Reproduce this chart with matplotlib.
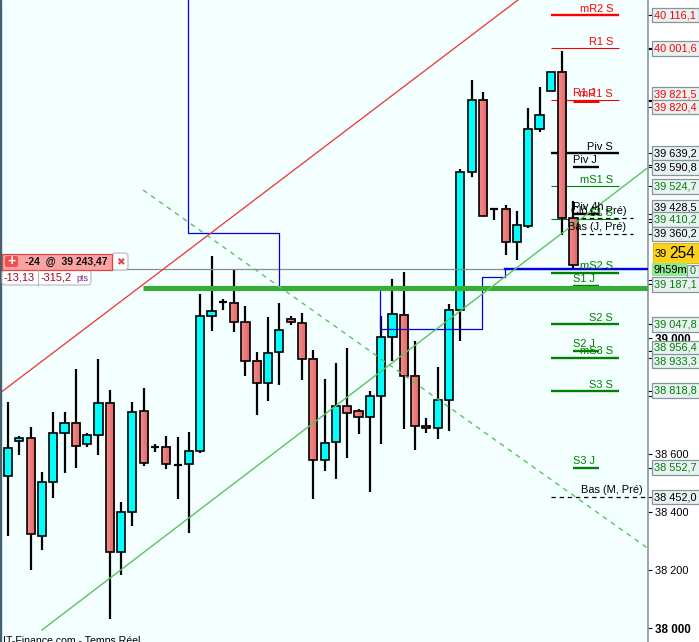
import numpy as np
import matplotlib
matplotlib.use("Agg")
import matplotlib.pyplot as plt
from matplotlib.colors import LinearSegmentedColormap
from matplotlib.patches import Rectangle, FancyBboxPatch

plt.rcParams["font.family"] = ["Liberation Sans", "DejaVu Sans"]

# candles, one per period
opens = [38525, 38644, 38656, 38318, 38504, 38673, 38708, 38635, 38666, 38777, 38262, 38400, 38749,
         38625, 38625, 38563, 38566, 38611, 39077, 39125, 39122, 39056, 38922, 38846, 38953, 39067,
         39053, 38929, 38580, 38642, 38766, 38749, 38728, 38801, 39005, 39081, 38870, 38697, 38690,
         38787, 39098, 39574, 39823, 39446, 39446, 39332, 39388, 39723, 39854, 39919, 39415]
closes = [38621, 38656, 38325, 38504, 38673, 38708, 38628, 38666, 38777, 38262, 38400, 38746, 38570,
          38625, 38566, 38563, 38611, 39077, 39094, 39125, 39056, 38922, 38846, 38949, 39029, 39056,
          38929, 38580, 38639, 38766, 38742, 38728, 38801, 39005, 39084, 38870, 38697, 38690, 38787,
          39098, 39574, 39823, 39422, 39446, 39332, 39391, 39723, 39771, 39919, 39415, 39253]
highs = [38780, 38663, 38694, 38539, 38746, 38746, 38894, 38673, 38929, 38822, 38435, 38780, 38829,
         38635, 38663, 38659, 38677, 39153, 39284, 39136, 39236, 39112, 38953, 39074, 39122, 39077,
         39087, 38960, 38860, 38915, 38967, 38756, 38818, 39077, 39205, 39229, 38991, 38725, 38901,
         39118, 39585, 39892, 39850, 39450, 39460, 39440, 39795, 39868, 39919, 39992, 39471]
lows = [38318, 38597, 38200, 38269, 38449, 38535, 38552, 38625, 38597, 38031, 38183, 38352, 38559,
        38608, 38549, 38445, 38328, 38604, 39025, 39098, 39022, 38870, 38735, 38784, 38839, 39046,
        38856, 38445, 38542, 38514, 38587, 38670, 38470, 38635, 38922, 38687, 38615, 38673, 38653,
        38680, 38991, 39557, 39422, 39408, 39288, 39270, 39381, 39712, 39854, 39357, 39243]

# horizontal levels
level_names = ["mR2 S", "R1 S", "mR1 S", "Piv S", "mS1 S", "S1 S", "mS2 S", "S2 S", "mS3 S", "S3 S"]
level_prices = [40116.1, 40001.6, 39821.5, 39639.2, 39524.7, 39410.2, 39227, 39047.8, 38933.3, 38818.8]
level_colors = ["red", "red", "red", "black", "green", "green", "green", "green", "green", "green"]
level_widths = [1.7, 0.8, 0.8, 1.7, 0.8, 0.8, 1.7, 1.7, 1.7, 1.7]

short_names = ["R1 J", "Piv J", "Piv 4h", "S1 J", "S2 J", "S3 J"]
short_prices = [39820.4, 39590.8, 39428.5, 39180, 38956.4, 38552.7]
short_colors = ["red", "black", "black", "green", "green", "green"]
short_widths = [2.2, 1.7, 1.7, 1.7, 1.7, 1.7]

dashed_names = ["Clô (J, Pré)", "Bas (J, Pré)", "Bas (M, Pré)"]
dashed_prices = [39414, 39360.2, 38452.0]

# boxes on the price axis: text, colour, where the box sits
box_texts = ["40 116,1", "40 001,6", "39 821,5", "39 820,4", "39 639,2", "39 590,8", "39 524,7", "39 428,5",
             "39 410,2", "39 360,2", "39 187,1", "39 047,8", "38 956,4", "38 933,3", "38 818,8", "38 552,7", "38 452,0"]
box_colors = ["red", "red", "red", "red", "black", "black", "green", "black",
              "green", "black", "green", "green", "green", "green", "green", "green", "black"]
box_places = [40116.1, 40001.6, 39843, 39798.5, 39639.2, 39590.8, 39524.7, 39453,
              39410.2, 39360.2, 39187.1, 39047.8, 38966.6, 38921.7, 38818.8, 38552.7, 38452.0]
box_ticks = [40116.1, 40001.6, 39821.5, 39820.4, 39639.2, 39590.8, 39524.7, 39428.5,
             39410.2, 39360.2, 39187.1, 39047.8, 38956.4, 38933.3, 38818.8, 38552.7, 38452.0]

round_ticks = [38000, 38200, 38400, 38600, 38800, 39000, 39200, 39400, 39600, 39800, 40000]
round_labels = ["38 000", "38 200", "38 400", "38 600", "", "39 000", "", "", "", "", ""]

# trend lines and steps
red_x, red_y = [-0.708, 45.1], [38811, 40168]
green_x, green_y = [3.0, 56.55], [37993, 39588]
dash_x, dash_y = [11.95, 56.55], [39512, 38276]
step_x = [15.93, 15.93, 23.98, 23.98, 32.9, 32.9, 41.9, 41.9, 43.98, 43.98]
step_y = [40168, 39364, 39364, 39174, 39174, 39032, 39032, 39212, 39212, 39240]
current_level = 39240
band_level = 39173

fig = plt.figure(figsize=(6.99, 6.42), dpi=100, facecolor="white")
ax = fig.add_axes([0, 0, 647.5 / 699, 1], facecolor="#F4FFFF")

# levels go under the candles
for name, price, color, width in zip(level_names, level_prices, level_colors, level_widths):
    ax.plot([48, 54], [price, price], color=color, lw=width, zorder=1, solid_capstyle="butt")
    ax.annotate(name, (53.5, price), xytext=(0, 2.3), textcoords="offset points", ha="right", va="baseline",
                color=color, fontsize=7.9, zorder=6)
for name, price, color, width in zip(short_names, short_prices, short_colors, short_widths):
    ax.plot([50, 52.3], [price, price], color=color, lw=width, zorder=1, solid_capstyle="butt")
    ax.annotate(name, (50, price), xytext=(0, 3), textcoords="offset points", ha="left", va="baseline",
                color=color, fontsize=7.9, zorder=6)
ax.plot([50, 50], [39428, 39471], color="black", lw=1.5, zorder=1)
for name, price in zip(dashed_names, dashed_prices):
    start = 48 if "M" in name else 50
    end = 56.55 if "M" in name else 55.3
    right = 56.1 if "M" in name else 54.7
    ax.plot([start, end], [price, price], color="black", lw=0.9, ls=(0, (3.5, 3)), zorder=1)
    ax.annotate(name, (right, price), xytext=(0, 3), textcoords="offset points", ha="right", va="baseline",
                color="black", fontsize=7.9, zorder=6)

# candles
red_map = LinearSegmentedColormap.from_list("body", ["#F88C8C", "#DE6666"])
shade = np.linspace(0, 1, 16).reshape(1, -1)
for i in range(len(opens)):
    top, bottom = max(opens[i], closes[i]), min(opens[i], closes[i])
    ax.plot([i, i], [lows[i], highs[i]], color="black", lw=1.6, zorder=2, solid_capstyle="butt")
    if opens[i] == closes[i]:
        ax.plot([i - 0.36, i + 0.36], [top, top], color="black", lw=1.6, zorder=3, solid_capstyle="butt")
    elif closes[i] > opens[i]:
        ax.bar(i, top - bottom, bottom=bottom, width=0.72, color="#00FFFF", edgecolor="black", lw=1.2, zorder=3)
    else:
        ax.imshow(shade, cmap=red_map, aspect="auto", zorder=3, extent=(i - 0.36, i + 0.36, bottom, top))
        ax.bar(i, top - bottom, bottom=bottom, width=0.72, color="none", edgecolor="black", lw=1.2, zorder=3.1)

# overlays
ax.plot([-0.708, 56.55], [current_level, current_level], color="#8C8C8C", lw=0.9, zorder=4)
ax.plot(step_x, step_y, color="#0000E0", lw=0.9, zorder=4)
ax.plot([step_x[-1], 56.55], [current_level, current_level], color="#0000E0", lw=1.7, zorder=4.2)
ax.plot(red_x, red_y, color="#F03030", lw=0.9, zorder=4.5)
ax.plot(green_x, green_y, color="#5CC45C", lw=1.0, zorder=4.5)
ax.plot(dash_x, dash_y, color="#5CC45C", lw=1.0, ls=(0, (3.5, 3.5)), zorder=4.5)
ax.plot([11.95, 56.55], [band_level, band_level], color="#33B033", lw=3.6, zorder=4.4, solid_capstyle="butt")

ax.set_xlim(-0.708, 56.55)
ax.set_ylim(37951.7, 40167.9)
ax.set_xticks([])

ax.yaxis.tick_right()
ax.set_yticks(round_ticks + box_ticks)
ax.set_yticklabels(round_labels + [""] * len(box_ticks), fontsize=7.9)
ax.tick_params(axis="y", length=2.9, width=0.8, pad=2.4, color="black")
for tick, price in zip(ax.yaxis.get_major_ticks(), round_ticks + box_ticks):
    if price in box_ticks:
        tick.tick2line.set_color(box_colors[box_ticks.index(price)])
    if price in (38000, 39000):
        tick.label2.set_fontweight("bold")
        tick.label2.set_fontsize(8.4)
for side in ["top", "left", "bottom"]:
    ax.spines[side].set_visible(False)
ax.spines["right"].set_color("#7F9098")
ax.spines["right"].set_linewidth(1.1)

# price boxes, x in axes fraction so they sit right of the axis
box_left = 654.5 / 647.5
trans = ax.get_yaxis_transform()
for text, color, place in zip(box_texts, box_colors, box_places):
    ax.text(box_left, place, text, transform=trans, color=color, fontsize=7.9, va="center", ha="left", zorder=7,
            clip_on=False, bbox=dict(boxstyle="square,pad=0.22", fc="#E8F2F2", ec="#84969A", lw=0.9))

# overlay in pixels for the panels around the chart
over = fig.add_axes([0, 0, 1, 1], facecolor="none")
over.set_xlim(0, 699)
over.set_ylim(642, 0)
over.axis("off")

over.add_patch(Rectangle((0, 0), 1.3, 642, color="#47606E", zorder=1))

# current price and timer boxes
over.add_patch(Rectangle((687, 265), 12, 12, fc="#E8F2F2", ec="#84969A", lw=0.9, zorder=2))
over.text(690, 271.5, "0", fontsize=7.9, color="green", va="center", zorder=3)
over.add_patch(Rectangle((653, 243), 47, 20, fc="#FFD21A", ec="#C8A000", lw=0.5, zorder=3))
over.text(655, 254, "39", fontsize=7.9, va="center", zorder=4)
over.text(669, 253, "254", fontsize=11.2, va="center", zorder=4)
over.add_patch(Rectangle((652, 263), 35, 13, fc="#90E890", ec="none", zorder=5))
over.text(654, 270, "9h59m", fontsize=7.9, va="center", zorder=6)

# position panel
over.add_patch(FancyBboxPatch((112, 253), 16, 17, boxstyle="round,pad=0,rounding_size=3", fc="white", ec="#B0B8BC", lw=0.8, zorder=2))
over.add_patch(Rectangle((2, 253.5), 110, 16.5, fc="#F9A3A3", ec="#E04545", lw=0.9, zorder=3))
over.add_patch(FancyBboxPatch((5, 256), 13, 11, boxstyle="round,pad=0,rounding_size=2", fc="#EE5050", ec="none", zorder=4))
over.text(11.5, 261.5, "+", color="white", fontsize=10, fontweight="bold", ha="center", va="center", zorder=5)
over.text(25, 262, "-24  @  39 243,47", fontsize=7.5, color="#101010", fontweight="bold", va="center", zorder=5)
over.text(120, 262, "\u2716", fontsize=7.5, color="#D94A4A", ha="center", va="center", zorder=5, family="DejaVu Sans")
over.add_patch(FancyBboxPatch((2, 270), 89, 15, boxstyle="round,pad=0,rounding_size=3", fc="white", ec="#B0B8BC", lw=0.8, zorder=2))
over.plot([38, 38], [270, 285], color="#B0B8BC", lw=0.8, zorder=3)
over.text(4, 278, "-13,13", fontsize=7.9, color="#A00020", va="center", zorder=5)
over.text(41, 278, "-315,2", fontsize=7.9, color="#A00020", va="center", zorder=5)
over.text(76, 278.5, "pts", fontsize=6.5, color="#80208A", va="center", zorder=5)

over.text(3, 636.5, "IT-Finance.com - Temps Réel", fontsize=7.6, color="black", va="top", zorder=5)

fig.savefig("out.png", dpi=100)
plt.close(fig)
